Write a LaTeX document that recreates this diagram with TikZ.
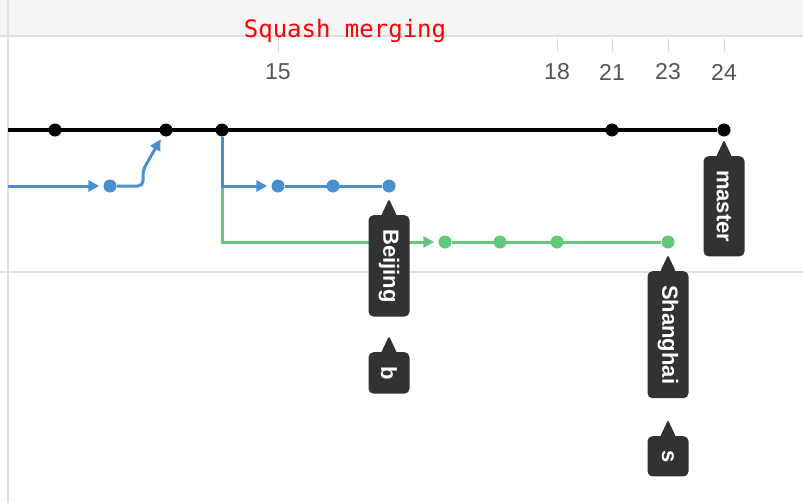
\documentclass[tikz,border=0pt]{standalone}
\usepackage{fontspec}
\usepackage{graphicx}
\setmainfont{Liberation Sans}
\newfontfamily\titlefont{DejaVu Sans Mono}
\usetikzlibrary{arrows.meta, calc}

\definecolor{gitblue}{RGB}{74,144,206}
\definecolor{gitgreen}{RGB}{98,200,122}
\definecolor{tagdark}{RGB}{50,50,50}
\definecolor{tickgray}{RGB}{85,85,85}

\begin{document}
\begin{tikzpicture}[x=1pt, y=-1pt]
	\tikzstyle{commit}=[circle, inner sep=0pt, minimum size=13pt]
	\tikzstyle{mcommit}=[commit, fill=black]
	\tikzstyle{bcommit}=[commit, fill=gitblue]
	\tikzstyle{scommit}=[commit, fill=gitgreen]
	\tikzstyle{tag}=[fill=tagdark, text=white, rounded corners=5pt, anchor=north,
		minimum width=41pt, minimum height=36pt, inner xsep=0pt, inner ysep=14pt,
		font=\fontsize{22}{25}\selectfont\bfseries]
	\tikzstyle{tick}=[black!15, line width=1pt]
	\tikzstyle{ticklabel}=[font=\fontsize{23}{27}\selectfont, text=tickgray]
	\tikzstyle{grid}=[black!12, line width=1.2pt]
	\tikzstyle{arrow}=[-{Triangle[length=11pt, width=11pt]}, shorten >=4pt]
	\tikzstyle{mline}=[line width=3.5pt]
	\tikzstyle{bline}=[gitblue, line width=3pt]
	\tikzstyle{sline}=[gitgreen, line width=3pt]

	% frame
	\fill[white] (0,0) rectangle (803,503);
	\useasboundingbox (0,0) rectangle (803,503);
	\fill[black!4] (0,0) rectangle (803,36);
	\draw[grid] (0,36) -- (803,36);
	\draw[grid] (8,0) -- (8,503);
	\draw[grid] (0,272) -- (803,272);

	% axis
	\foreach \x/\n in {278/15, 557/18, 612/21, 668/23, 724/24} {
		\draw[tick] (\x,38) -- (\x,52);
		\node[ticklabel] (t\n) at (\x,72) {\n};
	}
	\node[font=\titlefont\fontsize{24}{28}\selectfont, text=red] (title) at (345,31) {Squash merging};

	% commits
	\coordinate (m0) at (8,130);
	\node[mcommit] (m1) at (55,130) {};
	\node[mcommit] (m2) at (166,130) {};
	\node[mcommit] (m3) at (222,130) {};
	\node[mcommit] (m4) at (612,130) {};
	\node[mcommit] (m5) at (724,130) {};

	\coordinate (b0s) at (8,186);
	\node[bcommit] (b0) at (110,186) {};
	\node[bcommit] (b1) at (278,186) {};
	\node[bcommit] (b2) at (333,186) {};
	\node[bcommit] (b3) at (389,186) {};

	\node[scommit] (s1) at (445,242) {};
	\node[scommit] (s2) at (500,242) {};
	\node[scommit] (s3) at (557,242) {};
	\node[scommit] (s4) at (668,242) {};

	\draw[mline] (m0) -- (m5);
	\draw[sline, arrow] (m3 |- b1) |- (s1);
	\draw[sline] (s1) -- (s4);
	\draw[bline, arrow] (b0s) -- (b0);
	\draw[bline, arrow, rounded corners=5pt] (b0) -- ++(33,0) -- ++(0,-16) -- (m2);
	\draw[bline, arrow] (m3) |- (b1);
	\draw[bline] (b1) -- (b3);

	% labels
	\node[tag] (tagBeijing) at (389,215) {\rotatebox{-90}{Beijing}};
	\node[tag] (tagb) at (389,352) {\rotatebox{-90}{b}};
	\node[tag] (tagmaster) at (724,156) {\rotatebox{-90}{master}};
	\node[tag] (tagShanghai) at (668,271) {\rotatebox{-90}{Shanghai}};
	\node[tag] (tags) at (668,436) {\rotatebox{-90}{s}};
	\foreach \t in {tagBeijing, tagb, tagmaster, tagShanghai, tags}
		\fill[tagdark, rounded corners=1.5pt] (\t.north) ++(-8,1) -- ++(8,-17) -- ++(8,17) -- cycle;
\end{tikzpicture}
\end{document}
